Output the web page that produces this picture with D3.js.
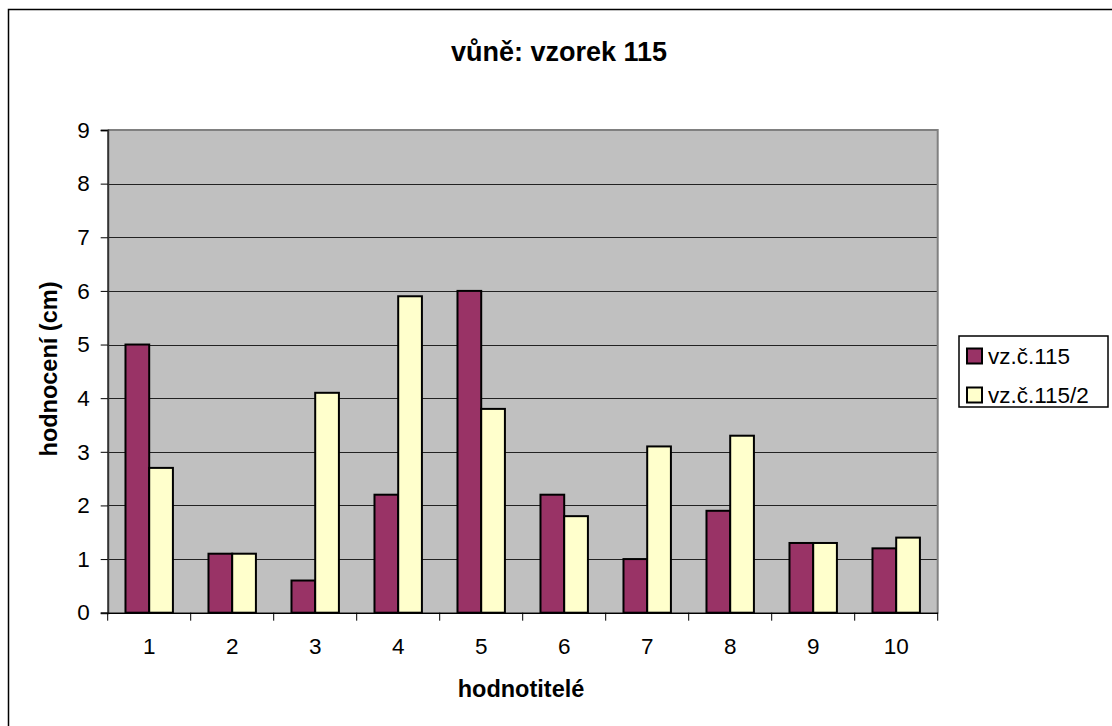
<!DOCTYPE html>
<html>
<head>
<meta charset="utf-8">
<script src="https://cdn.jsdelivr.net/npm/d3@7"></script>
<style>
  body { margin: 0; background: #fff; }
  text { font-family: Arial, "Liberation Sans", sans-serif; }
</style>
</head>
<body>
<svg id="chart" width="1112" height="726"></svg>
<script>
// data
const categories = ["1", "2", "3", "4", "5", "6", "7", "8", "9", "10"];
const seriesNames = ["vz.č.115", "vz.č.115/2"];
const sample115 = [5, 1.1, 0.6, 2.2, 6, 2.2, 1, 1.9, 1.3, 1.2];
const sample115b = [2.7, 1.1, 4.1, 5.9, 3.8, 1.8, 3.1, 3.3, 1.3, 1.4];
const yTicks = [0, 1, 2, 3, 4, 5, 6, 7, 8, 9];
const colors = ["#993366", "#FFFFCC"];

const svg = d3.select("#chart");

// outer chart frame (only left/top edges are inside the picture)
svg.append("rect")
    .attr("x", 8.5).attr("y", 9.5)
    .attr("width", 1200).attr("height", 1000)
    .attr("fill", "#fff")
    .attr("stroke", "#000")
    .attr("stroke-width", 1.5);

const plot = {left: 107.7, right: 937.7, top: 130, bottom: 612.7};

const x = d3.scaleBand()
    .domain(categories)
    .range([plot.left, plot.right])
    .paddingInner(0)
    .paddingOuter(0);

const y = d3.scaleLinear()
    .domain([0, 9])
    .range([plot.bottom, plot.top]);

// plot background
svg.append("rect")
    .attr("x", plot.left).attr("y", plot.top)
    .attr("width", plot.right - plot.left)
    .attr("height", plot.bottom - plot.top)
    .attr("fill", "#C0C0C0");

// gridlines
svg.append("g")
    .selectAll("line")
    .data(yTicks.filter(d => d > 0 && d < 9))
    .enter()
    .append("line")
    .attr("x1", plot.left).attr("x2", plot.right)
    .attr("y1", d => Math.round(y(d)) + 0.5)
    .attr("y2", d => Math.round(y(d)) + 0.5)
    .attr("stroke", "#222")
    .attr("stroke-width", 1);

// top and right plot border
svg.append("path")
    .attr("d", `M${plot.left},${plot.top} H${plot.right} V${plot.bottom}`)
    .attr("fill", "none")
    .attr("stroke", "#808080")
    .attr("stroke-width", 2);

// bars: gap width 150% -> bar width = band / 3.5
const bw = x.bandwidth() / 3.5;
const series = [sample115, sample115b];
series.forEach((vals, s) => {
    svg.append("g")
        .selectAll("rect")
        .data(vals)
        .enter()
        .append("rect")
        .attr("x", (d, i) => x(categories[i]) + 0.75 * bw + s * bw)
        .attr("y", d => y(d))
        .attr("width", bw)
        .attr("height", d => y(0) - y(d))
        .attr("fill", colors[s])
        .attr("stroke", "#000")
        .attr("stroke-width", 2);
});

// y axis
const yAxis = svg.append("g")
    .attr("transform", `translate(${plot.left},0)`)
    .call(d3.axisLeft(y).tickValues(yTicks).tickSize(7).tickPadding(11).tickFormat(d3.format("d")));
yAxis.select(".domain").attr("stroke", "#333").attr("stroke-width", 2);
yAxis.selectAll(".tick line").attr("stroke", "#000");
yAxis.selectAll("text").attr("font-size", 22.5).attr("fill", "#000")
    .style("font-family", "Arial, 'Liberation Sans', sans-serif");

// x axis with ticks on category boundaries
const xAxis = svg.append("g")
    .attr("transform", `translate(0,${plot.bottom})`)
    .call(d3.axisBottom(x).tickSize(0).tickPadding(25));
xAxis.select(".domain").attr("stroke", "#000").attr("stroke-width", 1.5);
xAxis.selectAll("text").attr("font-size", 22.5).attr("fill", "#000")
    .style("font-family", "Arial, 'Liberation Sans', sans-serif");
xAxis.selectAll(".boundary")
    .data(d3.range(categories.length + 1))
    .enter()
    .append("line")
    .attr("x1", i => plot.left + i * x.step())
    .attr("x2", i => plot.left + i * x.step())
    .attr("y1", 0).attr("y2", 8)
    .attr("stroke", "#000")
    .attr("stroke-width", 1);

// title
svg.append("text")
    .attr("x", 559).attr("y", 61)
    .attr("text-anchor", "middle")
    .attr("font-size", 27).attr("font-weight", "bold")
    .text("vůně: vzorek 115");

// axis titles
svg.append("text")
    .attr("x", 521).attr("y", 697)
    .attr("text-anchor", "middle")
    .attr("font-size", 23.5).attr("font-weight", "bold")
    .text("hodnotitelé");

svg.append("text")
    .attr("transform", "translate(57,369) rotate(-90)")
    .attr("text-anchor", "middle")
    .attr("font-size", 23.5).attr("font-weight", "bold")
    .text("hodnocení (cm)");

// legend
const legend = svg.append("g").attr("transform", "translate(959,336)");
legend.append("rect")
    .attr("x", 0).attr("y", 0)
    .attr("width", 149).attr("height", 71)
    .attr("fill", "#fff")
    .attr("stroke", "#000")
    .attr("stroke-width", 1.5);
seriesNames.forEach((name, i) => {
    const row = legend.append("g").attr("transform", `translate(0,${20 + i * 39})`);
    row.append("rect")
        .attr("x", 8).attr("y", -7.5)
        .attr("width", 15).attr("height", 15)
        .attr("fill", colors[i])
        .attr("stroke", "#000")
        .attr("stroke-width", 2);
    row.append("text")
        .attr("x", 29).attr("y", 8)
        .attr("font-size", 22.5)
        .text(name);
});
</script>
</body>
</html>
